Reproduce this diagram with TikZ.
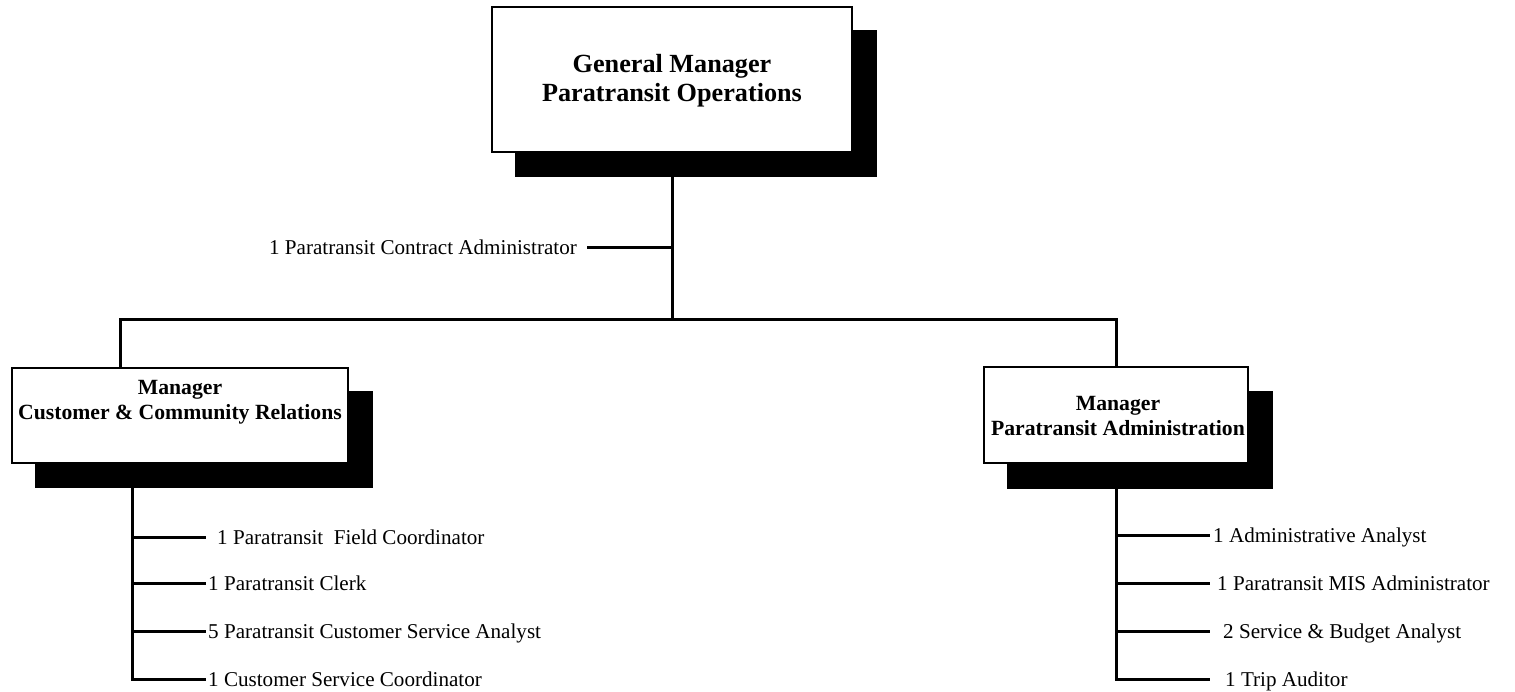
\documentclass[tikz,border=0pt]{standalone}
\usepackage{fontspec}
\setmainfont{Liberation Serif}
\usetikzlibrary{backgrounds}
\begin{document}
\begin{tikzpicture}[x=1pt,y=-1pt,
  box/.style={draw,line width=1.8pt,fill=white,inner sep=0pt},
  wire/.style={line width=3pt},
  shade/.style={fill=black},
  head/.style={font=\bfseries\fontsize{26.2}{29}\selectfont,align=center,inner sep=0pt},
  sub/.style={font=\bfseries\fontsize{21.7}{25}\selectfont,align=center,inner sep=0pt},
  post/.style={font=\fontsize{21.1}{24}\selectfont,anchor=west,inner ysep=0pt,inner xsep=2pt,
               text height=14pt,text depth=0pt},
]
\useasboundingbox (0,0) rectangle (1515,692);

% management boxes
\node[box,minimum width=360pt,minimum height=145pt] (gm) at (672,79.5) {};
\node[head] (gmT) at (672,81) {General Manager\\Paratransit Operations};
\node[box,minimum width=336pt,minimum height=95pt] (ccr) at (180,415.5) {};
\node[sub] (ccrT) at (180,402.5) {Manager\\Customer \& Community Relations};
\node[box,minimum width=264pt,minimum height=96pt] (pa) at (1116,415) {};
\node[sub] (paT) at (1118,416.5) {Manager\\Paratransit Administration};

% positions reporting directly
\node[post,anchor=east,inner xsep=10pt] (ca) at (587,248) {1 Paratransit Contract Administrator};

\node[post,inner xsep=11pt] (l1) at (206,537) {1 Paratransit\ \ Field Coordinator};
\node[post] (l2) at (206,583) {1 Paratransit Clerk};
\node[post] (l3) at (206,631) {5 Paratransit Customer Service Analyst};
\node[post] (l4) at (206,679) {1 Customer Service Coordinator};

\node[post,inner xsep=3pt] (r1) at (1210,535) {1 Administrative Analyst};
\node[post,inner xsep=7pt] (r2) at (1210,583) {1 Paratransit MIS Administrator};
\node[post,inner xsep=13pt] (r3) at (1210,631) {2 Service \& Budget Analyst};
\node[post,inner xsep=15pt] (r4) at (1210,679) {1 Trip Auditor};

% junction points on the trunk lines
\coordinate (j) at (672,320);
\coordinate (ccrIn) at (120,368);
\coordinate (spL) at (132,463);
\coordinate (spR) at (1116,463);

\begin{scope}[on background layer]
  % connectors
  \draw[wire] (gm.south) -- (j);
  \draw[wire] (ca.east) -- (ca.east -| j);
  \draw[wire] (ccrIn) |- (j) -| (pa.north);
  \draw[wire] (spL) |- (l4.west);
  \draw[wire] (l1.west -| spL) -- (l1.west);
  \draw[wire] (l2.west -| spL) -- (l2.west);
  \draw[wire] (l3.west -| spL) -- (l3.west);
  \draw[wire] (spR) |- (r4.west);
  \draw[wire] (r1.west -| spR) -- (r1.west);
  \draw[wire] (r2.west -| spR) -- (r2.west);
  \draw[wire] (r3.west -| spR) -- (r3.west);
  % drop shadows
  \fill[shade] ([shift={(24,24)}]gm.north west) rectangle ([shift={(24,24)}]gm.south east);
  \fill[shade] ([shift={(24,24)}]ccr.north west) rectangle ([shift={(24,24)}]ccr.south east);
  \fill[shade] ([shift={(24,25)}]pa.north west) rectangle ([shift={(24,25)}]pa.south east);
\end{scope}
\end{tikzpicture}
\end{document}
